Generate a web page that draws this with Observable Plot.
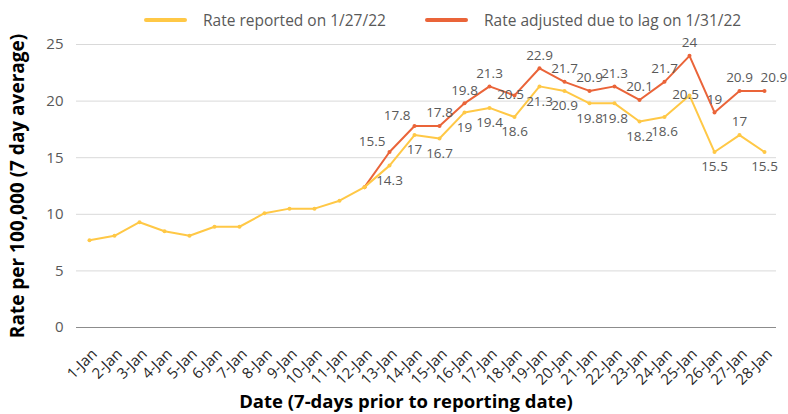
<!DOCTYPE html>
<html>
<head>
<meta charset="utf-8">
<script src="https://cdn.jsdelivr.net/npm/d3@7"></script>
<script src="https://cdn.jsdelivr.net/npm/@observablehq/plot@0.6"></script>
<style>
  html, body { margin: 0; padding: 0; background: #fff; }
  body { width: 788px; height: 414px; overflow: hidden; font-family: "Open Sans", sans-serif; position: relative; }
  #legend { position: absolute; left: 0; top: 0; width: 788px; height: 38px; }
  .item { position: absolute; top: 9px; display: flex; align-items: center; font-size: 15.5px; color: #595959; white-space: nowrap; }
  .swatch { width: 43px; height: 4px; border-radius: 2px; margin-right: 16px; }
  #chart { position: absolute; left: 0; top: 38px; }
  #chart svg { overflow: visible; }
  #xtitle { position: absolute; left: 0; width: 812px; text-align: center; top: 390px; font-size: 18.5px; line-height: 22px; font-weight: bold; color: #000; white-space: nowrap; }
</style>
</head>
<body>
<div id="legend"></div>
<div id="chart"></div>
<div id="xtitle"></div>
<script>
const dates = ["1-Jan","2-Jan","3-Jan","4-Jan","5-Jan","6-Jan","7-Jan","8-Jan","9-Jan","10-Jan","11-Jan","12-Jan","13-Jan","14-Jan","15-Jan","16-Jan","17-Jan","18-Jan","19-Jan","20-Jan","21-Jan","22-Jan","23-Jan","24-Jan","25-Jan","26-Jan","27-Jan","28-Jan"];
const reported = [7.7,8.1,9.3,8.5,8.1,8.9,8.9,10.1,10.5,10.5,11.2,12.4,14.3,17,16.7,19,19.4,18.6,21.3,20.9,19.8,19.8,18.2,18.6,20.5,15.5,17,15.5];
const adjusted = [null,null,null,null,null,null,null,null,null,null,null,12.4,15.5,17.8,17.8,19.8,21.3,20.5,22.9,21.7,20.9,21.3,20.1,21.7,24,19,20.9,20.9];
const seriesNames = ["Rate reported on 1/27/22", "Rate adjusted due to lag on 1/31/22"];
const seriesColors = ["#FFC846", "#EA6439"];
const yTicks = [0, 5, 10, 15, 20, 25];
const xTitle = "Date (7-days prior to reporting date)";
const yTitle = "Rate per 100,000 (7 day average)";
const firstLabelIndex = 12;

// data-label placement exceptions (default: adjusted above, reported below)
const adjustedPlacement = {"13-Jan": "left", "14-Jan": "left", "18-Jan": "center", "28-Jan": "right"};
const reportedPlacement = {"25-Jan": "center", "27-Jan": "above"};
const placementStyle = {
  above:  {dy: -13, textAnchor: "middle", dx: 0},
  below:  {dy: 15, textAnchor: "middle", dx: 0},
  left:   {dy: -10, textAnchor: "end", dx: -4},
  right:  {dy: -13, textAnchor: "start", dx: -4},
  center: {dy: -1, textAnchor: "middle", dx: -4}
};

const legend = document.getElementById("legend");
const legendLefts = [144, 425];
seriesNames.forEach((name, i) => {
  const el = document.createElement("div");
  el.className = "item";
  el.style.left = legendLefts[i] + "px";
  el.innerHTML = `<span class="swatch" style="background:${seriesColors[i]}"></span><span>${name}</span>`;
  legend.appendChild(el);
});
document.getElementById("xtitle").textContent = xTitle;

const rep = dates.map((d, i) => ({date: d, value: reported[i], i, place: reportedPlacement[d] || "below"}));
const adj = dates.map((d, i) => ({date: d, value: adjusted[i], i, place: adjustedPlacement[d] || "above"})).filter(d => d.value != null);
const labelled = [...adj, ...rep].filter(d => d.i >= firstLabelIndex);

const labelMarks = Object.entries(placementStyle).map(([p, s]) =>
  Plot.text(labelled.filter(d => d.place === p), {x: "date", y: "value", text: d => String(d.value), fontSize: 13.5, fill: "#595959", ...s})
);

const chart = Plot.plot({
  width: 788,
  height: 376,
  marginTop: 6,
  marginLeft: 76,
  marginRight: 12,
  marginBottom: 87,
  style: {fontFamily: "Open Sans, sans-serif", color: "#595959", background: "white", overflow: "visible"},
  x: {type: "point", domain: dates, padding: 0.5, label: null},
  y: {domain: [0, 25], label: null},
  marks: [
    Plot.gridY(yTicks.filter(t => t > 0), {stroke: "#D9D9D9", strokeOpacity: 1, strokeWidth: 1}),
    Plot.ruleY([0], {stroke: "#8C8C8C", strokeWidth: 1}),
    Plot.axisY(yTicks, {tickSize: 0, tickPadding: 13, fontSize: 15, fill: "#595959", label: null}),
    Plot.axisY({ticks: [], label: yTitle, labelAnchor: "center", labelArrow: "none", labelOffset: 66, fontSize: 19, fontWeight: "bold", fill: "#000", tickSize: 0}),
    Plot.axisX({tickRotate: -45, tickSize: 0, tickPadding: 24, fontSize: 15, fill: "#262626", label: null, dx: 5}),
    Plot.line(adj, {x: "date", y: "value", stroke: seriesColors[1], strokeWidth: 2}),
    Plot.dot(adj, {x: "date", y: "value", fill: seriesColors[1], r: 2}),
    Plot.line(rep, {x: "date", y: "value", stroke: seriesColors[0], strokeWidth: 2}),
    Plot.dot(rep, {x: "date", y: "value", fill: seriesColors[0], r: 2}),
    ...labelMarks
  ]
});
document.getElementById("chart").appendChild(chart);
</script>
</body>
</html>
